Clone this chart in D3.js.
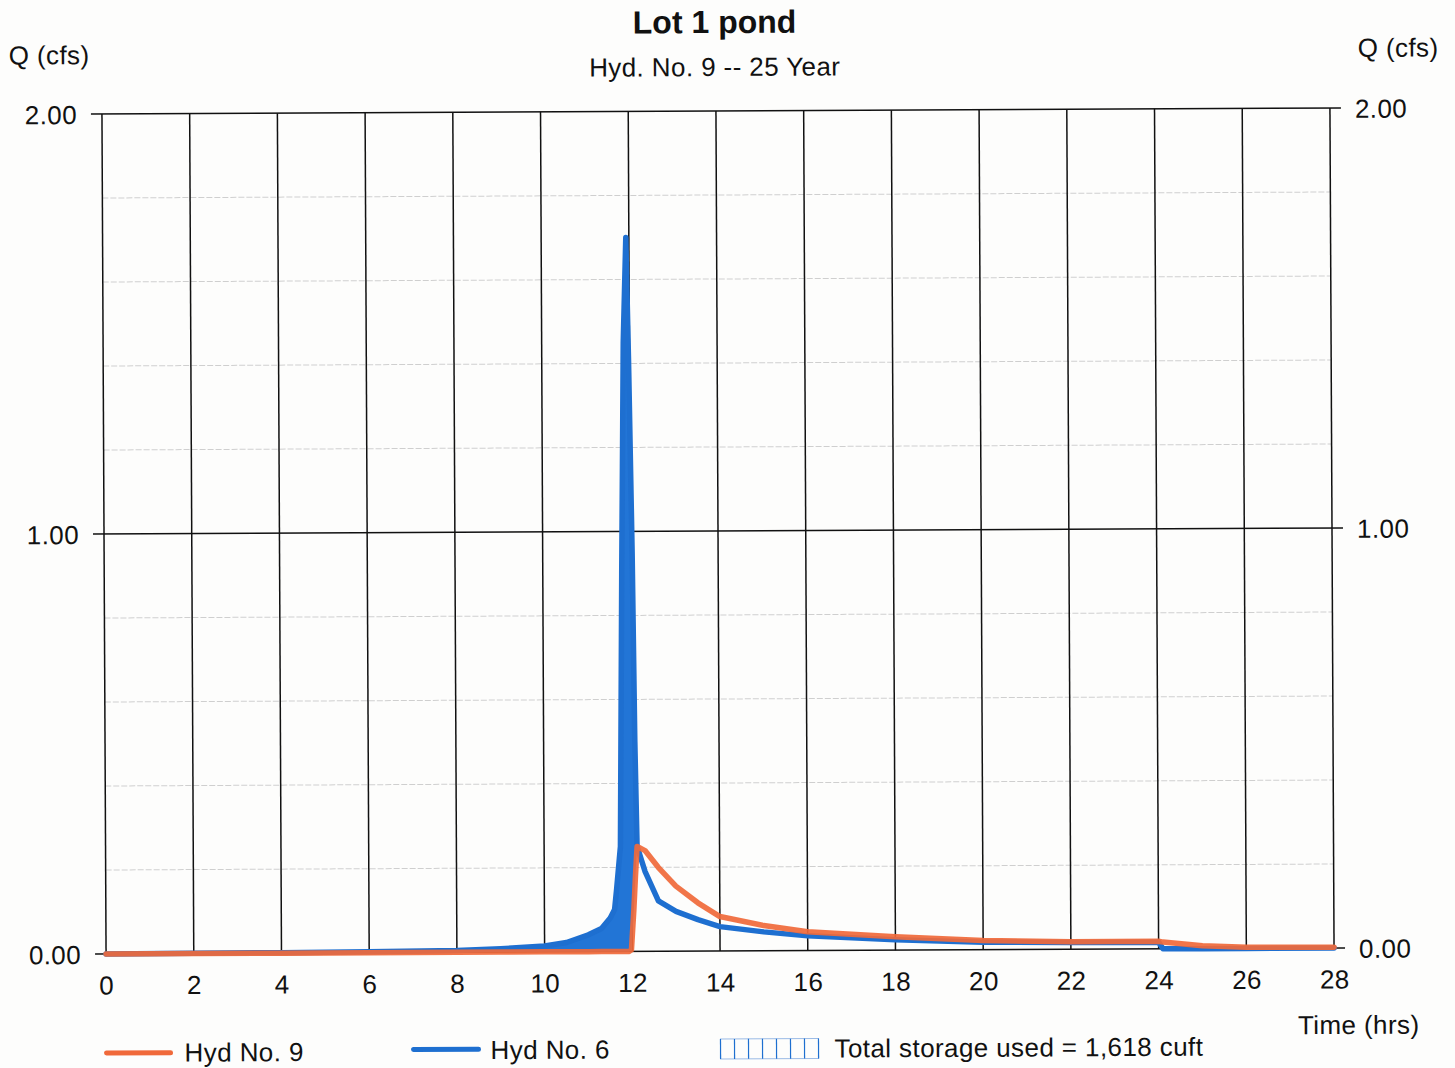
<!DOCTYPE html>
<html>
<head>
<meta charset="utf-8">
<script src="https://cdn.jsdelivr.net/npm/d3@7"></script>
<style>
  html, body { margin: 0; padding: 0; background: #fdfdfc; }
  svg { display: block; }
  text { font-family: "Liberation Sans", Arial, sans-serif; fill: #111; letter-spacing: 0.4px; }
</style>
</head>
<body>
<svg id="chart" width="1455" height="1068"></svg>
<script>
// Hydrograph ordinates (time in hours, flow in cfs)
const timeHrs = [0, 2, 4, 6, 8, 9, 10, 10.5, 11, 11.3, 11.5, 11.6, 11.65, 11.74, 11.8, 11.86, 11.93,
                 11.98, 12.04, 12.08, 12.12, 12.3, 12.6, 13, 13.5, 14, 15, 16, 18, 20, 22, 24, 24.1, 25, 26, 28];
// Hyd No. 6 — inflow
const hyd6Flow = [0, 0.001, 0.001, 0.002, 0.004, 0.008, 0.014, 0.022, 0.04, 0.055, 0.08, 0.1, 0.15, 0.25, 0.9, 1.45, 1.70,
                  1.4, 0.95, 0.5, 0.25, 0.19, 0.12, 0.095, 0.075, 0.058, 0.045, 0.035, 0.025, 0.018, 0.016, 0.016, 0, 0, 0, 0];
// Hyd No. 9 — pond outflow
const hyd9Flow = [0, 0, 0, 0, 0, 0, 0, 0, 0, 0, 0, 0, 0, 0, 0, 0, 0,
                  0.004, 0.1, 0.18, 0.25, 0.24, 0.2, 0.155, 0.115, 0.082, 0.06, 0.045, 0.032, 0.022, 0.018, 0.018, 0.016, 0.007, 0.003, 0.002];

const xTicks = [0, 2, 4, 6, 8, 10, 12, 14, 16, 18, 20, 22, 24, 26, 28];
const yMajorTicks = [0, 1, 2];
const yMinorTicks = [0.2, 0.4, 0.6, 0.8, 1.2, 1.4, 1.6, 1.8];
const yTickLabels = ["0.00", "1.00", "2.00"];

const titleText = "Lot 1 pond";
const subtitleText = "Hyd. No. 9 -- 25 Year";
const storageText = "Total storage used = 1,618 cuft";

const orange = "#f0693a";
const blue = "#1e6fd0";
const fontSize = "26px";

const svg = d3.select("#chart");
const g = svg.append("g").attr("transform", "rotate(-0.28 718 531)");

const x0 = 104, x1 = 1332, yTop = 111, yBot = 951;
const x = d3.scaleLinear().domain([0, 28]).range([x0, x1]);
const y = d3.scaleLinear().domain([0, 2]).range([yBot, yTop]);

// minor horizontal grid
g.append("g").selectAll("line").data(yMinorTicks).join("line")
  .attr("x1", x0).attr("x2", x1)
  .attr("y1", d => y(d)).attr("y2", d => y(d))
  .attr("stroke", "#cfcfcf").attr("stroke-width", 1).attr("stroke-dasharray", "6 2");

// vertical grid every 2 hours
g.append("g").selectAll("line").data(xTicks).join("line")
  .attr("x1", d => x(d)).attr("x2", d => x(d))
  .attr("y1", yTop).attr("y2", yBot)
  .attr("stroke", "#111").attr("stroke-width", 1.5);

// major horizontal grid with tick overhang on both sides
g.append("g").selectAll("line").data(yMajorTicks).join("line")
  .attr("x1", x0 - 11).attr("x2", x1 + 11)
  .attr("y1", d => y(d)).attr("y2", d => y(d))
  .attr("stroke", "#111").attr("stroke-width", 1.5);

// axis labels
const leftAxis = d3.axisLeft(y).tickValues(yMajorTicks).tickFormat((d, i) => yTickLabels[i]).tickSize(0).tickPadding(25);
const rightAxis = d3.axisRight(y).tickValues(yMajorTicks).tickFormat((d, i) => yTickLabels[i]).tickSize(0).tickPadding(25);
const bottomAxis = d3.axisBottom(x).tickValues(xTicks).tickFormat(d3.format("d")).tickSize(0).tickPadding(22);

function styleAxis(sel) {
  sel.select(".domain").remove();
  sel.selectAll("text").style("font-size", fontSize)
    .style("font-family", "'Liberation Sans', Arial, sans-serif").attr("fill", "#111");
}
g.append("g").attr("transform", `translate(${x0},0)`).call(leftAxis).call(styleAxis)
  .selectAll("text").attr("dy", "0.36em");
g.append("g").attr("transform", `translate(${x1},0)`).call(rightAxis).call(styleAxis)
  .selectAll("text").attr("dy", "0.36em");
g.append("g").attr("transform", `translate(0,${yBot})`).call(bottomAxis).call(styleAxis);

// storage area: between inflow and outflow while inflow exceeds outflow
const rows = timeHrs.map((t, i) => ({ t, inflow: hyd6Flow[i], outflow: hyd9Flow[i] }));
const storageRows = rows.filter(r => r.t >= 8 && r.t <= 12.12);
const area = d3.area()
  .x(d => x(d.t))
  .y0(d => y(d.outflow))
  .y1(d => y(Math.max(d.inflow, d.outflow)));
g.append("path").datum(storageRows)
  .attr("d", area)
  .attr("fill", "#2275d6");

// hydrograph lines
const line = key => d3.line().x(d => x(d.t)).y(d => y(d[key]));
g.append("path").datum(rows)
  .attr("d", line("inflow"))
  .attr("fill", "none").attr("stroke", blue).attr("stroke-width", 5.5)
  .attr("stroke-linejoin", "round").attr("stroke-linecap", "round");
g.append("path").datum(rows)
  .attr("d", line("outflow"))
  .attr("fill", "none").attr("stroke", orange).attr("stroke-width", 5.5)
  .attr("stroke-opacity", 0.92)
  .attr("stroke-linejoin", "round").attr("stroke-linecap", "round");

// titles
g.append("text").attr("x", 717).attr("y", 33).attr("text-anchor", "middle")
  .style("font-size", "32px").style("font-weight", "bold").style("letter-spacing", "0px").text(titleText);
g.append("text").attr("x", 717).attr("y", 76).attr("text-anchor", "middle")
  .style("font-size", fontSize).text(subtitleText);
g.append("text").attr("x", 11).attr("y", 61).style("font-size", fontSize).text("Q (cfs)");
g.append("text").attr("x", 1360).attr("y", 60).style("font-size", fontSize).text("Q (cfs)");
g.append("text").attr("x", 1417).attr("y", 1037).attr("text-anchor", "end")
  .style("font-size", fontSize).text("Time (hrs)");

// legend
const legend = g.append("g");
legend.append("line").attr("x1", 104).attr("x2", 168).attr("y1", 1050).attr("y2", 1050)
  .attr("stroke", orange).attr("stroke-width", 5).attr("stroke-linecap", "round");
legend.append("text").attr("x", 182).attr("y", 1059).style("font-size", fontSize).text("Hyd No. 9");
legend.append("line").attr("x1", 411).attr("x2", 476).attr("y1", 1048).attr("y2", 1048)
  .attr("stroke", blue).attr("stroke-width", 5).attr("stroke-linecap", "round");
legend.append("text").attr("x", 488).attr("y", 1058).style("font-size", fontSize).text("Hyd No. 6");

const hatchX = d3.range(0, 8).map(i => 718 + i * 14);
legend.append("rect").attr("x", 718).attr("y", 1039).attr("width", 98).attr("height", 20)
  .attr("fill", "none").attr("stroke", "#9bbbe6").attr("stroke-width", 1);
legend.append("g").selectAll("line").data(hatchX).join("line")
  .attr("x1", d => d).attr("x2", d => d).attr("y1", 1039).attr("y2", 1059)
  .attr("stroke", blue).attr("stroke-width", 1.2);
legend.append("text").attr("x", 832).attr("y", 1058).style("font-size", fontSize).text(storageText);
</script>
</body>
</html>
